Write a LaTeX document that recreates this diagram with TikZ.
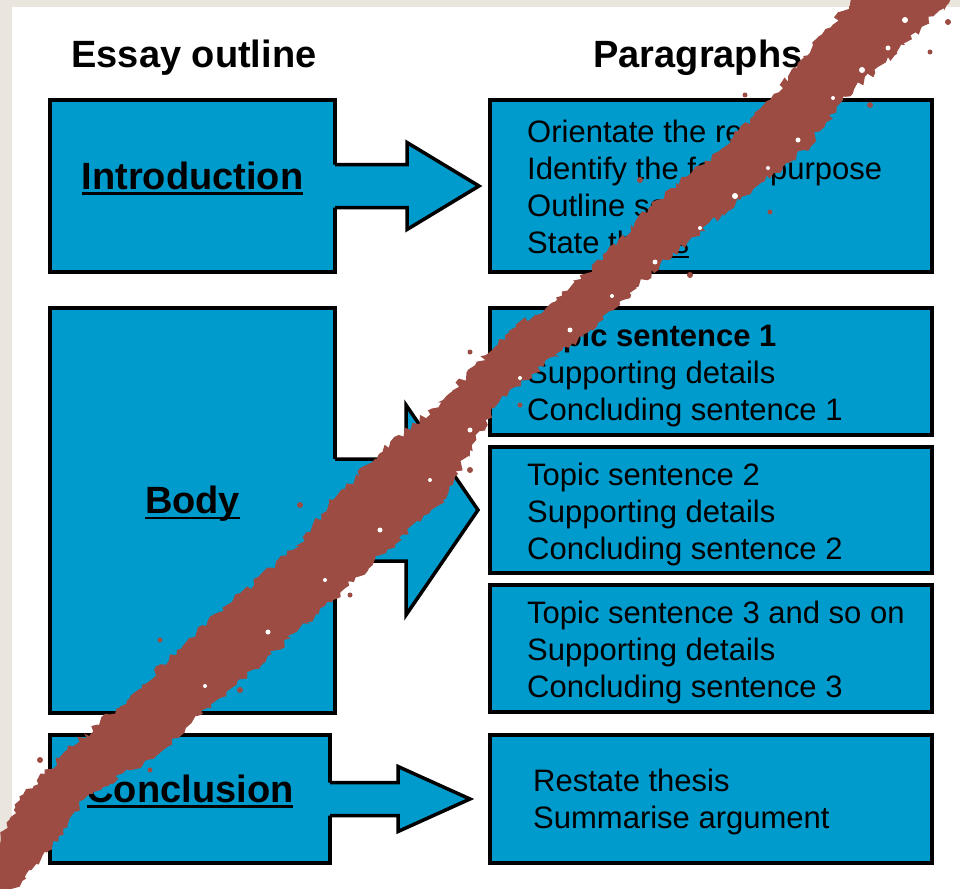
\documentclass[tikz,border=0pt]{standalone}
\usepackage{fontspec}
\setmainfont{Liberation Sans}
\usetikzlibrary{positioning,calc,decorations.pathmorphing}

\definecolor{paper}{RGB}{234,230,221}
\definecolor{boxblue}{RGB}{0,155,205}
\definecolor{brushred}{RGB}{156,76,66}

\newsavebox{\ulbox}
\newcommand{\headline}[1]{\sbox{\ulbox}{#1}\rlap{\rule[-5.6pt]{\wd\ulbox}{2.6pt}}\usebox{\ulbox}}
\newcommand{\textline}[1]{\sbox{\ulbox}{#1}\rlap{\rule[-4.6pt]{\wd\ulbox}{1.8pt}}\usebox{\ulbox}}

\tikzset{
	box/.style={rectangle, draw=black, fill=boxblue, line width=3.5pt, outer sep=0pt, inner sep=0pt},
	heading/.style={font=\fontsize{38}{44}\selectfont\bfseries, anchor=base, inner sep=0pt},
	lines/.style={font=\fontsize{31}{37}\selectfont, align=left, anchor=west, inner sep=0pt},
	outline/.style={draw=black, line width=3.5pt, line join=miter}
}

\begin{document}
\begin{tikzpicture}[x=1pt,y=-1pt]
	\useasboundingbox (0,0) rectangle (960,888);
	\fill[paper] (0,0) rectangle (960,888);
	\fill[white] (12,7) rectangle (960,888);

	% column titles
	\node[heading] (outlineT) at (194,68) {Essay outline};
	\node[heading] (paraT) at (698,68) {Paragraphs};

	% essay outline
	\node[box, minimum width=285pt, minimum height=172pt] (intro) at (192.5,186) {};
	\node[box, minimum width=285pt, minimum height=405pt] (body) at (192.5,510.5) {};
	\node[box, minimum width=280pt, minimum height=128pt] (concl) at (190,799) {};

	% paragraphs
	\node[box, minimum width=442pt, minimum height=172pt] (pIntro) at (711,186) {};
	\node[box, minimum width=442pt, minimum height=127pt] (pTopic1) at (711,371.5) {};
	\node[box, minimum width=442pt, minimum height=126pt, below=12pt of pTopic1] (pTopic2) {};
	\node[box, minimum width=442pt, minimum height=127pt, below=12pt of pTopic2] (pTopic3) {};
	\node[box, minimum width=442pt, minimum height=128pt] (pConcl) at (711,799) {};

	% block arrows
	\foreach \src/\dst/\arm/\head/\gap in {intro/pIntro/21.5/43.5/11, body/pTopic2/51/105/12, concl/pConcl/16.5/32.5/20}{
		\coordinate (tip) at ($(\dst.west)+(-\gap,0)$);
		\coordinate (base) at (\src.east |- tip);
		\fill[boxblue] ($(base)+(-4,-\arm)$) -| ($(tip)+(-72,-\head)$) -- (tip)
			-- ($(tip)+(-72,\head)$) |- ($(base)+(-4,\arm)$) -- cycle;
		\draw[outline] ($(base)+(0,-\arm)$) -| ($(tip)+(-72,-\head)$) -- (tip)
			-- ($(tip)+(-72,\head)$) |- ($(base)+(0,\arm)$);
	}

	\node[heading] (introT) at ($(intro.center)+(0,3)$) {\headline{Introduction}};
	\node[heading] (bodyT) at ($(body.center)+(0,3)$) {\headline{Body}};
	\node[heading] (conclT) at ($(concl.center)+(0,3)$) {\headline{Conclusion}};

	\node[lines] (pIntroT) at ($(pIntro.west)+(37,3)$)
		{Orientate the reader\\Identify the focus/purpose\\Outline scope\\State \textline{thesis}};
	\node[lines] (pTopic1T) at ($(pTopic1.west)+(37,4)$)
		{\textbf{Topic sentence 1}\\Supporting details\\Concluding sentence 1};
	\node[lines] (pTopic2T) at ($(pTopic2.west)+(37,4)$)
		{Topic sentence 2\\Supporting details\\Concluding sentence 2};
	\node[lines] (pTopic3T) at ($(pTopic3.west)+(37,4)$)
		{Topic sentence 3 and so on\\Supporting details\\Concluding sentence 3};
	\node[lines] (pConclT) at ($(pConcl.west)+(43,3)$)
		{Restate thesis\\Summarise argument};

	% brush stroke across the page
	\pgfmathsetseed{7}
	\fill[brushred, decorate, decoration={random steps, segment length=4pt, amplitude=3.5pt}]
		(-5,850) -- (20,800) -- (67,750) -- (127,700) -- (177,650) -- (233,600) -- (293,550)
		-- (333,500) -- (383,450) -- (443,400) -- (505,335) -- (557,300) -- (600,260)
		-- (657,200) -- (720,150) -- (770,100) -- (813,45) -- (858,-5)
		-- (955,-5) -- (905,45) -- (843,100) -- (805,150) -- (740,200) -- (667,260)
		-- (623,300) -- (590,330) -- (500,400) -- (470,450) -- (443,500) -- (387,550)
		-- (333,600) -- (277,650) -- (217,700) -- (163,750) -- (83,800) -- (50,850)
		-- (10,893) -- (-5,893) -- cycle;
	% splatter along its edges
	\foreach \x/\y/\r in {905/20/3, 888/48/2.5, 862/70/3, 833/98/2, 798/140/2.5, 768/168/2,
			735/196/3, 700/228/2, 655/262/2.5, 612/296/2, 570/330/2.5, 520/378/2,
			470/430/2.5, 430/480/2, 380/530/2.5, 325/580/2, 268/632/2.5, 205/686/2}
		\fill[white] (\x,\y) circle (\r);
	\foreach \x/\y/\r in {948/22/3, 930/52/2.5, 870/105/3, 770/212/2.5, 690/275/3,
			520/405/2.5, 470/470/3, 350/595/2.5, 240/690/3, 150/770/2.5, 745/95/2.5,
			640/180/3, 470/352/2.5, 300/505/3, 160/640/2.5, 40/760/3}
		\fill[brushred] (\x,\y) circle (\r);
\end{tikzpicture}
\end{document}
